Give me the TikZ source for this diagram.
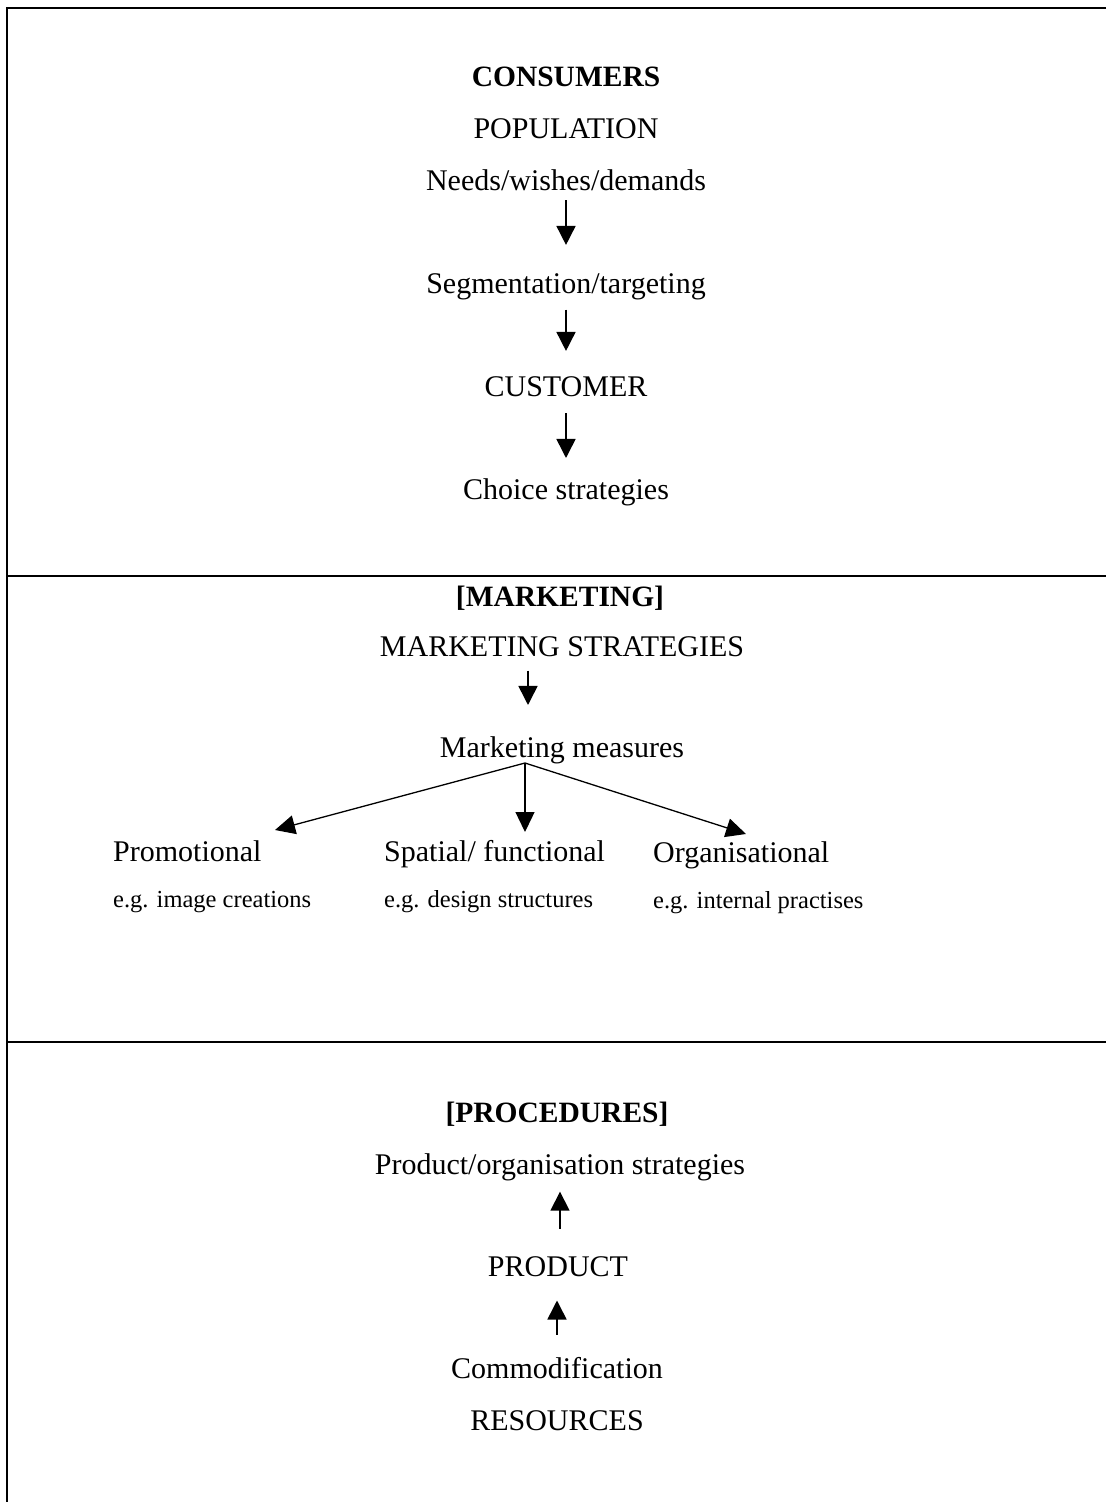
\documentclass[tikz,border=0pt]{standalone}
\usepackage{fontspec}
\setmainfont{Liberation Serif}
\usetikzlibrary{arrows.meta}
\begin{document}
\begin{tikzpicture}[x=1pt,y=-1pt,
  lbl/.style={inner sep=0pt,anchor=base,font=\fontsize{30}{36}\selectfont},
  head/.style={lbl,font=\fontsize{29.5}{36}\selectfont\bfseries},
  lleft/.style={lbl,anchor=base west},
  small/.style={inner sep=0pt,anchor=base west,font=\fontsize{24.5}{29}\selectfont},
  flow/.style={line width=1.6pt,-{Triangle[length=19pt,width=19pt]}},
  branch/.style={line width=1.3pt,-{Triangle[length=20pt,width=19pt]}},
  frame/.style={line width=1.8pt}]
\useasboundingbox (0,0) rectangle (1106,1502);

% frame and section dividers
\draw[frame] (1106,8) -- (7,8) -- (7,1502);
\draw[line width=1.3pt] (7,576) -- (1106,576);
\draw[line width=1.3pt] (7,1042) -- (1106,1042);

% consumers
\node[head] (cons) at (566,86) {CONSUMERS};
\node[lbl] (pop) at (566,138) {POPULATION};
\node[lbl] (needs) at (566,190) {Needs/wishes/demands};
\node[lbl] (seg) at (566,293) {Segmentation/targeting};
\node[lbl] (cust) at (566,396) {CUSTOMER};
\node[lbl] (choice) at (566,499) {Choice strategies};
\draw[flow] ([yshift=-10pt]needs.south) -- ([yshift=28pt]seg.north);
\draw[flow] ([yshift=-10pt]seg.south) -- ([yshift=25pt]cust.north);
\draw[flow] ([yshift=-17pt]cust.south) -- ([yshift=20pt]choice.north);

% marketing
\node[head] (mkt) at (560,606) {[MARKETING]};
\node[lbl] (mstrat) at (562,656) {MARKETING STRATEGIES};
\node[lbl] (meas) at (562,757) {Marketing measures};
\draw[flow] ([xshift=-34pt,yshift=-14pt]mstrat.south) -- ([xshift=-34pt,yshift=31pt]meas.north);

\node[lleft] (promo) at (113,861) {Promotional};
\node[lleft] (spat) at (384,861) {Spatial/ functional};
\node[lleft] (orga) at (653,862) {Organisational};
\node[small] (egp) at (113,907) {e.g. image creations};
\node[small] (egs) at (384,907) {e.g. design structures};
\node[small] (ego) at (653,908) {e.g. internal practises};

\coordinate (fork) at (525,763);
\coordinate (tipP) at (275,830);
\coordinate (tipS) at (525,832);
\coordinate (tipO) at (746,834);
\draw[branch] (fork) -- (tipP);
\draw[branch] (fork) -- (tipS);
\draw[branch] (fork) -- (tipO);

% procedures
\node[head] (proc) at (557,1122) {[PROCEDURES]};
\node[lbl] (pstrat) at (560,1174) {Product/organisation strategies};
\node[lbl] (prod) at (558,1276) {PRODUCT};
\node[lbl] (comm) at (557,1378) {Commodification};
\node[lbl] (res) at (557,1430) {RESOURCES};
\draw[flow] ([xshift=2pt,yshift=27pt]prod.north) -- ([yshift=-11pt]pstrat.south);
\draw[flow] ([yshift=22pt]comm.north) -- ([xshift=-1pt,yshift=-24pt]prod.south);
\end{tikzpicture}
\end{document}
